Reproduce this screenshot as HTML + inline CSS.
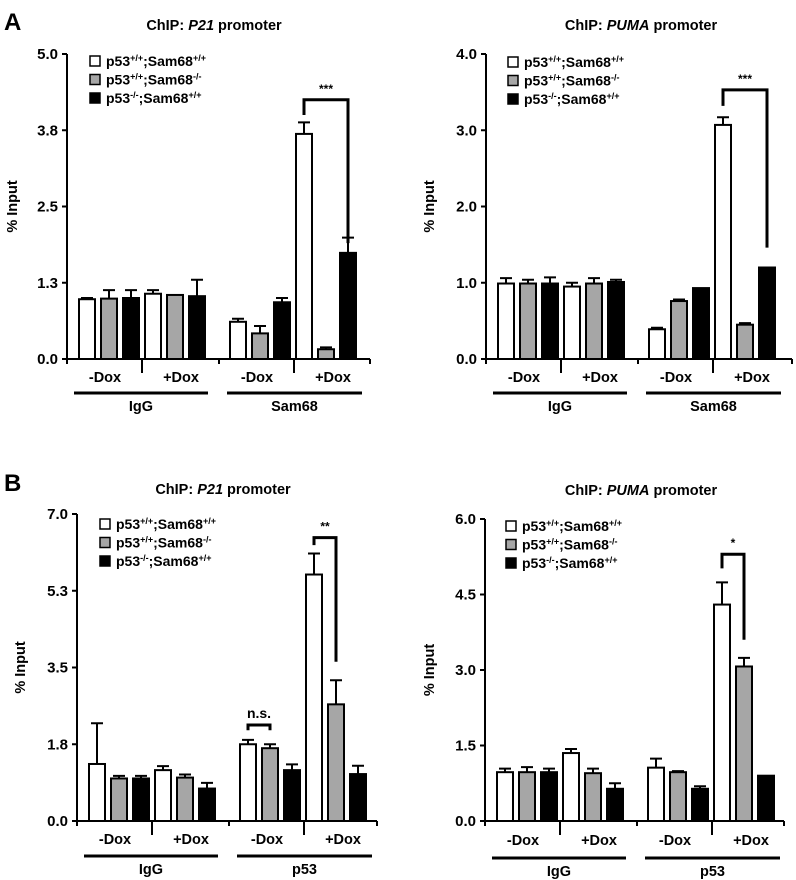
<!DOCTYPE html>
<html><head><meta charset="utf-8"><style>
html,body{margin:0;padding:0;background:#fff;}
svg{display:block;font-family:"Liberation Sans",Arial,sans-serif;font-weight:bold;}
</style></head><body>
<svg id="fig" width="796" height="880" viewBox="0 0 796 880" xmlns="http://www.w3.org/2000/svg">
<text x="4" y="30" font-size="24">A</text>
<text x="4" y="491" font-size="24">B</text>
</svg>
<script>
// ---- data ----
const conditions = ["-Dox", "+Dox", "-Dox", "+Dox"];
const seriesNames = ["p53+/+;Sam68+/+", "p53+/+;Sam68-/-", "p53-/-;Sam68+/+"];

const aLeftTicks = ["0.0", "1.3", "2.5", "3.8", "5.0"];
const aLeftWhite = [0.98, 1.07, 0.61, 3.69];
const aLeftGray = [0.99, 1.05, 0.42, 0.16];
const aLeftBlack = [1.0, 1.03, 0.93, 1.74];
const aLeftWhiteErr = [0.02, 0.06, 0.05, 0.19];
const aLeftGrayErr = [0.14, 0.0, 0.12, 0.03];
const aLeftBlackErr = [0.13, 0.27, 0.07, 0.25];

const aRightTicks = ["0.0", "1.0", "2.0", "3.0", "4.0"];
const aRightWhite = [0.99, 0.95, 0.39, 3.07];
const aRightGray = [0.99, 0.99, 0.76, 0.45];
const aRightBlack = [0.99, 1.01, 0.93, 1.2];
const aRightWhiteErr = [0.07, 0.05, 0.02, 0.1];
const aRightGrayErr = [0.05, 0.07, 0.02, 0.02];
const aRightBlackErr = [0.08, 0.03, 0.0, 0.0];

const bLeftTicks = ["0.0", "1.8", "3.5", "5.3", "7.0"];
const bLeftWhite = [1.3, 1.16, 1.75, 5.62];
const bLeftGray = [0.97, 0.99, 1.66, 2.66];
const bLeftBlack = [0.97, 0.74, 1.16, 1.07];
const bLeftWhiteErr = [0.93, 0.09, 0.1, 0.48];
const bLeftGrayErr = [0.06, 0.07, 0.09, 0.55];
const bLeftBlackErr = [0.06, 0.13, 0.13, 0.19];

const bRightTicks = ["0.0", "1.5", "3.0", "4.5", "6.0"];
const bRightWhite = [0.97, 1.35, 1.06, 4.3];
const bRightGray = [0.97, 0.95, 0.97, 3.07];
const bRightBlack = [0.97, 0.64, 0.64, 0.9];
const bRightWhiteErr = [0.07, 0.08, 0.18, 0.44];
const bRightGrayErr = [0.1, 0.09, 0.02, 0.17];
const bRightBlackErr = [0.07, 0.11, 0.05, 0.0];

// brackets: [cond, seriesA, seriesB, topValue, legAValue, legBValue, label]
const aLeftBrackets = [[3, 0, 2, 4.25, 4.0, 1.9, "***"]];
const aRightBrackets = [[3, 0, 2, 3.53, 3.32, 1.46, "***"]];
const bLeftBrackets = [[2, 0, 1, 2.19, 2.07, 2.07, "n.s."], [3, 0, 1, 6.46, 6.29, 3.63, "**"]];
const bRightBrackets = [[3, 0, 1, 5.3, 5.02, 3.6, "*"]];

// ---- drawing ----
const NS = "http://www.w3.org/2000/svg";
const svg = document.getElementById("fig");
function mk(tag, attrs, parent) {
  const e = document.createElementNS(NS, tag);
  for (const k in attrs) e.setAttribute(k, attrs[k]);
  (parent || svg).appendChild(e);
  return e;
}
const fills = ["#ffffff", "#a6a6a6", "#000000"];

function drawPanel(p) {
  const g = mk("g", {});
  
  
  const max = parseFloat(p.ticks[p.ticks.length - 1]);
  const yS = v => p.bottom - v / max * (p.bottom - p.top);
  const condStart = [11, 77, 162, 228];
  const step = 22, bw = 18;
  const xL = (c, s) => p.ax + condStart[c] + s * step;

  const t = mk("text", {x: p.titleX, y: p.titleY, "font-size": 14.5, "text-anchor": "middle"}, g);
  
  
  t.appendChild(document.createTextNode("ChIP: "));
  const it = mk("tspan", {"font-style": "italic"}, t); it.textContent = p.gene;
  t.appendChild(document.createTextNode(" promoter"));

  const yl = mk("text", {x: 0, y: 0, "font-size": 14.5, "text-anchor": "middle", transform: `translate(${p.ylabX},${(p.top + p.bottom) / 2}) rotate(-90)`}, g);
  
  
  yl.textContent = "% Input";

  p.ticks.forEach((lab, i) => {
    const v = i * max / (p.ticks.length - 1);
    const y = yS(v);
    const tk = mk("line", {x1: p.ax - 5, x2: p.ax, y1: y, y2: y, stroke: "#000", "stroke-width": 2}, g);
    
    
    const tl = mk("text", {x: p.ax - 9, y: y + 5, "font-size": 15, "text-anchor": "end"}, g);
    
    
    tl.textContent = lab;
  });

  p.series.forEach((vals, s) => {
    vals.forEach((v, c) => {
      const x = xL(c, s), y = yS(v);
      const r = mk("rect", {x: x + 1, y: y, width: bw - 2, height: p.bottom - y, fill: fills[s], stroke: "#000", "stroke-width": 2}, g);
      
      
      const e = p.errs[s][c];
      if (e > 0) {
        const cx = x + bw / 2, ye = yS(v + e);
        const el = mk("path", {d: `M${cx},${y} V${ye} M${cx - 6},${ye} H${cx + 6}`, stroke: "#000", "stroke-width": 2, fill: "none"}, g);
        
        
      }
    });
  });

  const ax = mk("path", {d: `M${p.ax},${p.top} V${p.bottom} H${p.right}`, stroke: "#000", "stroke-width": 2, fill: "none"}, g);
  
  
  [[0, 5], [75, 14], [152, 5], [227, 14], [p.right - p.ax, 5]].forEach(([dx, len]) => {
    const tk = mk("line", {x1: p.ax + dx, x2: p.ax + dx, y1: p.bottom, y2: p.bottom + len, stroke: "#000", "stroke-width": 2}, g);
    
    
  });
  const doxX = [38, 114, 190, 266];
  conditions.forEach((c, i) => {
    const tx = mk("text", {x: p.ax + doxX[i], y: p.doxY, "font-size": 14.5, "text-anchor": "middle"}, g);
    
    
    tx.textContent = c;
  });
  [[7, 141, "IgG"], [160, 295, p.ab]].forEach(([a, b, lab]) => {
    const ln = mk("line", {x1: p.ax + a, x2: p.ax + b, y1: p.lineY, y2: p.lineY, stroke: "#000", "stroke-width": 3}, g);
    
    
    const tx = mk("text", {x: p.ax + (a + b) / 2, y: p.lineY + 18, "font-size": 14.5, "text-anchor": "middle"}, g);
    
    
    tx.textContent = lab;
  });

  p.brackets.forEach(b => {
    const [c, sa, sb, top, la, lb, lab] = b;
    const x1 = xL(c, sa) + bw / 2, x2 = xL(c, sb) + bw / 2;
    const yt = yS(top);
    const br = mk("path", {d: `M${x1},${yS(la)} V${yt} H${x2} V${yS(lb)}`, stroke: "#000", "stroke-width": 3, fill: "none"}, g);
    
    
    const tx = mk("text", {x: (x1 + x2) / 2, y: yt - 7, "font-size": lab === "n.s." ? 14 : 12, "text-anchor": "middle"}, g);
    
    
    tx.textContent = lab;
  });

  const sups = [["+/+", "+/+"], ["+/+", "-/-"], ["-/-", "+/+"]];
  sups.forEach((sp, i) => {
    const cy = p.legY + i * 18.5;
    const sq = mk("rect", {x: p.legX, y: cy - 5, width: 10, height: 10, fill: fills[i], stroke: "#000", "stroke-width": 1.5}, g);
    
    
    const tx = mk("text", {x: p.legX + 16, y: cy + 5, "font-size": 14}, g);
    
    
    tx.appendChild(document.createTextNode("p53"));
    const s1 = mk("tspan", {"font-size": 9, dy: -5}, tx); s1.textContent = sp[0];
    const m = mk("tspan", {dy: 5}, tx); m.textContent = ";Sam68";
    const s2 = mk("tspan", {"font-size": 9, dy: -5}, tx); s2.textContent = sp[1];
  });
}

drawPanel({name: "panel-a-p21", gene: "P21", ab: "Sam68", ticks: aLeftTicks, ax: 67, top: 54, bottom: 359, right: 370,
  series: [aLeftWhite, aLeftGray, aLeftBlack], errs: [aLeftWhiteErr, aLeftGrayErr, aLeftBlackErr], brackets: aLeftBrackets,
  titleX: 214, titleY: 30, ylabX: 17, doxY: 382, lineY: 393, legX: 90, legY: 61});
drawPanel({name: "panel-a-puma", gene: "PUMA", ab: "Sam68", ticks: aRightTicks, ax: 486, top: 54, bottom: 359, right: 792,
  series: [aRightWhite, aRightGray, aRightBlack], errs: [aRightWhiteErr, aRightGrayErr, aRightBlackErr], brackets: aRightBrackets,
  titleX: 641, titleY: 30, ylabX: 434, doxY: 382, lineY: 393, legX: 508, legY: 62});
drawPanel({name: "panel-b-p21", gene: "P21", ab: "p53", ticks: bLeftTicks, ax: 77, top: 514, bottom: 821, right: 377,
  series: [bLeftWhite, bLeftGray, bLeftBlack], errs: [bLeftWhiteErr, bLeftGrayErr, bLeftBlackErr], brackets: bLeftBrackets,
  titleX: 223, titleY: 494, ylabX: 25, doxY: 844, lineY: 856, legX: 100, legY: 524});
drawPanel({name: "panel-b-puma", gene: "PUMA", ab: "p53", ticks: bRightTicks, ax: 485, top: 519, bottom: 821, right: 784,
  series: [bRightWhite, bRightGray, bRightBlack], errs: [bRightWhiteErr, bRightGrayErr, bRightBlackErr], brackets: bRightBrackets,
  titleX: 641, titleY: 495, ylabX: 434, doxY: 845, lineY: 858, legX: 506, legY: 526});
</script>
</body></html>
